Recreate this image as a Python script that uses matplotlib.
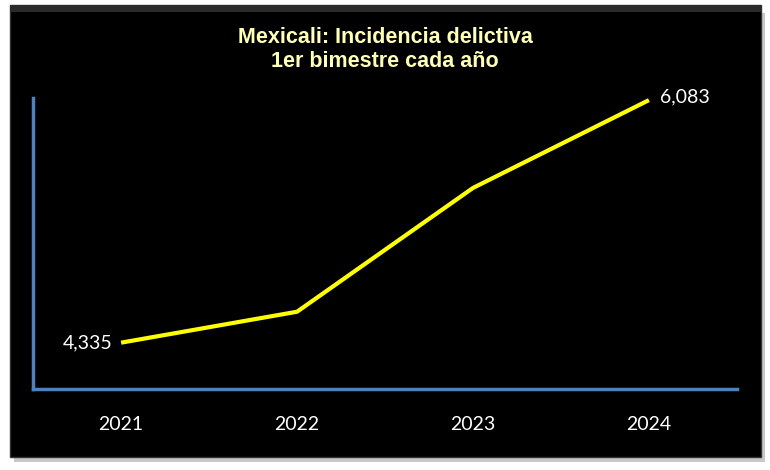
import matplotlib.pyplot as plt
from matplotlib.patches import Rectangle

years = ["2021", "2022", "2023", "2024"]
incidencia = [4335, 4558, 5450, 6083]
etiquetas = ["4,335", "", "", "6,083"]

fig = plt.figure(figsize=(7.7, 4.7), dpi=100)
fig.patch.set_facecolor("white")

# sombra y panel negro
fig.patches.append(Rectangle((0.018, 0.018), 0.975, 0.955, transform=fig.transFigure,
                             facecolor="#c8c8c8", edgecolor="none", zorder=-2))
fig.patches.append(Rectangle((0.013, 0.028), 0.975, 0.961, transform=fig.transFigure,
                             facecolor="black", edgecolor="#333333", linewidth=1, zorder=-1))
# borde superior claro
fig.patches.append(Rectangle((0.013, 0.975), 0.975, 0.014, transform=fig.transFigure,
                             facecolor="#2a2a2a", edgecolor="none", zorder=-1))

ax = fig.add_axes([0.043, 0.172, 0.914, 0.62])
ax.set_zorder(2)
ax.set_facecolor("none")
x = range(len(years))
ax.plot(x, incidencia, color="#ffff00", linewidth=3, solid_capstyle="butt")
ax.set_xlim(-0.5, 3.5)
ax.set_ylim(4000, 6100)

for s in ["top", "right"]:
    ax.spines[s].set_visible(False)
for s in ["left", "bottom"]:
    ax.spines[s].set_color("#4f81bd")
    ax.spines[s].set_linewidth(2.5)

ax.set_xticks(list(x))
ax.set_xticklabels(years, color="white", fontsize=14, family="Lato")
ax.tick_params(axis="x", length=0, pad=19)
ax.set_yticks([])

ax.annotate(etiquetas[0], (0, incidencia[0]), xytext=(-6, 0), textcoords="offset points",
            ha="right", va="center", color="white", fontsize=14, family="Lato")
ax.annotate(etiquetas[3], (3, incidencia[3]), xytext=(8, 2), textcoords="offset points",
            ha="left", va="center", color="white", fontsize=14, family="Lato")

fig.text(0.5, 0.895, "Mexicali: Incidencia delictiva\n1er bimestre cada año",
         ha="center", va="center", color="#ffffb8", fontsize=15.5, fontweight="bold",
         family="Liberation Sans", linespacing=1.2, zorder=3)

fig.savefig("out.png", dpi=100, facecolor=fig.get_facecolor())
